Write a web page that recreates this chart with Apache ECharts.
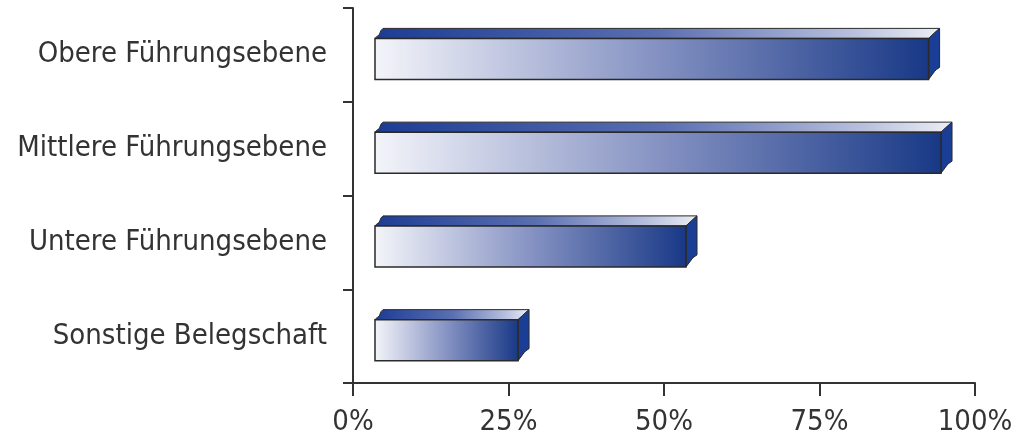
<!DOCTYPE html>
<html>
<head>
<meta charset="utf-8">
<script src="https://cdn.jsdelivr.net/npm/echarts@6/dist/echarts.min.js"></script>
<style>
html,body{margin:0;padding:0;background:#fff;}
#chart{width:1020px;height:441px;}
</style>
</head>
<body>
<div id="chart"></div>
<script>
const categories = ['Obere Führungsebene', 'Mittlere Führungsebene', 'Untere Führungsebene', 'Sonstige Belegschaft'];
const values = [89, 91, 50, 23];
const tickValues = [0, 25, 50, 75, 100];

const FONT = '"Liberation Sans Narrow", "DejaVu Sans Condensed", "Roboto Condensed", "Liberation Sans", sans-serif';
const chart = echarts.init(document.getElementById('chart'));

const OFFSET = 22, DX = 11, DY = 10, H = 41, YSHIFT = 4;

function renderItem(params, api) {
  const idx = api.value(0);
  const val = api.value(1);
  const s = api.coord([0, idx]);
  const e = api.coord([val, idx]);
  const x0 = s[0] + OFFSET, x1 = e[0] + OFFSET;
  const yc = e[1] + YSHIFT;
  const top = yc - H / 2, bottom = yc + H / 2;
  const stroke = '#2a2a2a';
  return {
    type: 'group',
    children: [
      {
        type: 'polygon',
        shape: { points: [[x0, top], [x0 + 3, top - 3], [x0 + 4, top - 3], [x0 + 6, top - DY + 2], [x0 + 8, top - DY], [x1 + DX, top - DY], [x1, top]] },
        style: {
          fill: new echarts.graphic.LinearGradient(0, 0, 1, 0, [
            { offset: 0, color: '#1c3c94' },
            { offset: 0.5, color: '#5a6fb1' },
            { offset: 0.85, color: '#b9c1de' },
            { offset: 1, color: '#eceef5' }
          ]),
          stroke: stroke, lineWidth: 1
        }
      },
      {
        type: 'polygon',
        shape: { points: [[x1, top], [x1 + DX, top - DY], [x1 + DX, bottom - DY - 2], [x1 + DX - 3, bottom - DY], [x1 + DX - 5, bottom - DY + 2], [x1, bottom]] },
        style: { fill: '#1a3e95', stroke: stroke, lineWidth: 1 }
      },
      {
        type: 'rect',
        shape: { x: x0, y: top, width: x1 - x0, height: H },
        style: {
          fill: new echarts.graphic.LinearGradient(0, 0, 1, 0, [
            { offset: 0, color: '#f4f5fa' },
            { offset: 0.5, color: '#8693c3' },
            { offset: 1, color: '#183886' }
          ]),
          stroke: stroke, lineWidth: 1.5
        }
      }
    ]
  };
}

chart.setOption({
  animation: false,
  backgroundColor: '#ffffff',
  grid: { left: 353, right: 45, top: 8, bottom: 58, containLabel: false },
  xAxis: {
    type: 'value', min: 0, max: 100, interval: 25,
    axisLine: { show: true, lineStyle: { color: '#333', width: 2 } },
    axisTick: { show: true, length: 13, lineStyle: { color: '#333', width: 2 } },
    splitLine: { show: false },
    axisLabel: { color: '#333', fontFamily: FONT, fontSize: 29, margin: 25,
      formatter: v => tickValues.includes(v) ? v + '%' : '' }
  },
  yAxis: {
    type: 'category', data: categories, inverse: true,
    axisLine: { show: true, lineStyle: { color: '#333', width: 2 } },
    axisTick: { show: true, length: 10, lineStyle: { color: '#333', width: 2 } },
    axisLabel: { color: '#333', fontFamily: FONT, fontSize: 29, margin: 26 }
  },
  series: [{
    type: 'custom',
    renderItem: renderItem,
    encode: { x: 1, y: 0 },
    data: values.map((v, i) => [i, v])
  }]
});
</script>
</body>
</html>
